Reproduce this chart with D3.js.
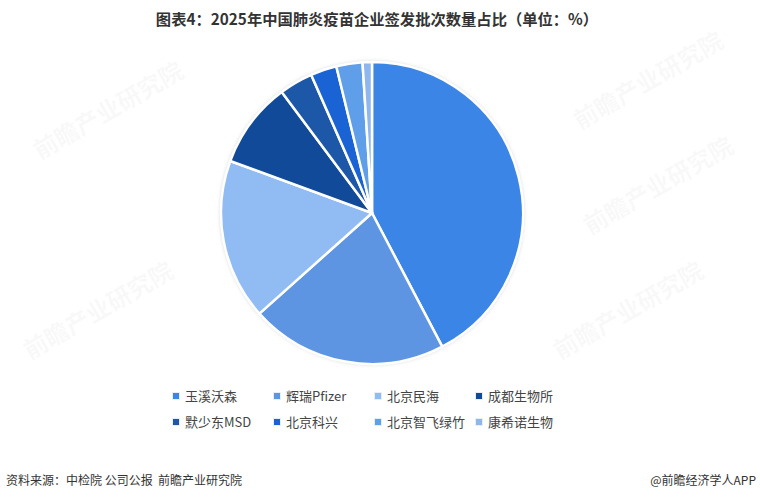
<!DOCTYPE html>
<html><head><meta charset="utf-8">
<script src="https://cdn.jsdelivr.net/npm/d3@7/dist/d3.min.js"></script>
<style>body{margin:0;background:#fff;font-family:"Microsoft YaHei","Noto Sans CJK SC",sans-serif;}</style>
</head><body>
<svg id="c" width="760" height="501"></svg>
<script>
const categories = ["玉溪沃森","辉瑞Pfizer","北京民海","成都生物所","默少东MSD","北京科兴","北京智飞绿竹","康希诺生物"];
const values = [42.3, 21.1, 17.2, 9.2, 3.6, 2.8, 2.8, 1.0];
const colors = ["#3a85e6","#5e95e3","#90bbf3","#124a9a","#1c57a8","#1a63d4","#5f9ee9","#8fb6ee"];

const svg = d3.select("#c");

// faint watermarks
const wm = [[40,160],[580,130],[590,235],[240,290],[30,360],[560,360]];
wm.forEach(([x,y])=>{
  svg.append("text").attr("x",x).attr("y",y).attr("transform",`rotate(-30,${x},${y})`)
    .attr("font-size",24).attr("font-weight","bold").attr("fill","#000").attr("opacity",0.025)
    .attr("font-family","Noto Sans CJK SC").text("前瞻产业研究院");
});

svg.append("text").attr("x",377).attr("y",25).attr("text-anchor","middle")
  .attr("font-size",15.3).attr("font-weight","bold").attr("fill","#333")
  .attr("font-family","Noto Sans CJK SC").text("图表4：2025年中国肺炎疫苗企业签发批次数量占比（单位：%）");

const cx = 372, cy = 213, r = 151;
const defs = svg.append("defs");
const f = defs.append("filter").attr("id","sh").attr("x","-20%").attr("y","-20%").attr("width","140%").attr("height","140%");
f.append("feDropShadow").attr("dx",0).attr("dy",0).attr("stdDeviation",2).attr("flood-color","#000").attr("flood-opacity",0.25);

const pie = d3.pie().sort(null).value(d=>d);
const arc = d3.arc().innerRadius(0).outerRadius(r);
const g = svg.append("g").attr("transform",`translate(${cx},${cy})`);
g.append("circle").attr("r",r).attr("fill","#fff").attr("filter","url(#sh)");
g.selectAll("path").data(pie(values)).join("path")
  .attr("d",arc).attr("fill",(d,i)=>colors[i]).attr("stroke","#fff").attr("stroke-width",2.5).attr("stroke-linejoin","round");

// legend
const colX = [176,277,378,479];
const rowY = [396,422];
const lg = svg.append("g");
categories.forEach((c,i)=>{
  const x = colX[i%4], y = rowY[Math.floor(i/4)];
  lg.append("rect").attr("x",x-4).attr("y",y-4).attr("width",8).attr("height",8).attr("fill","#e8eef7");
  lg.append("rect").attr("x",x-3).attr("y",y-3).attr("width",6).attr("height",6).attr("fill",colors[i]);
  lg.append("text").attr("x",x+9).attr("y",y+5).attr("font-size",13).attr("fill","#444")
    .attr("font-family","Noto Sans CJK SC").text(c);
});

svg.append("text").attr("x",6).attr("y",485).attr("font-size",12).attr("fill","#333")
  .style("white-space","pre")
  .attr("font-family","Noto Sans CJK SC").text("资料来源：中检院 公司公报  前瞻产业研究院");
svg.append("text").attr("x",756).attr("y",485).attr("text-anchor","end").attr("font-size",12).attr("fill","#333")
  .attr("font-family","Noto Sans CJK SC").text("@前瞻经济学人APP");
</script>
</body></html>
